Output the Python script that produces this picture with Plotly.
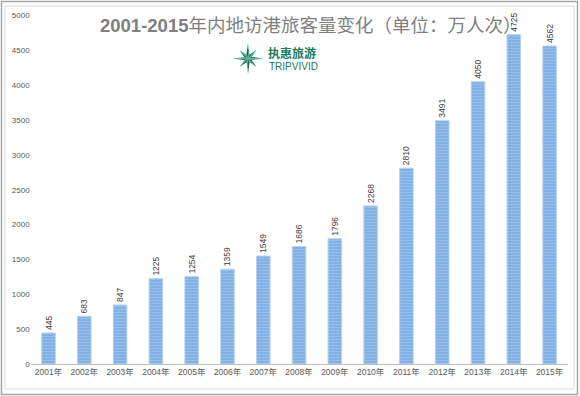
import math
import plotly.graph_objects as go

# ---------------- data ----------------
years = ["2001年", "2002年", "2003年", "2004年", "2005年", "2006年", "2007年", "2008年",
         "2009年", "2010年", "2011年", "2012年", "2013年", "2014年", "2015年"]
visitors = [445, 683, 847, 1225, 1254, 1359, 1549, 1686, 1796, 2268, 2810, 3491, 4050, 4725, 4562]
y_ticks = [0, 500, 1000, 1500, 2000, 2500, 3000, 3500, 4000, 4500, 5000]
title_bold = "2001-2015"
title_rest = "年内地访港旅客量变化（单位：万人次）"
logo_cn = "执惠旅游"
logo_en = "TRIPVIVID"

# ---------------- layout helpers ----------------
W, H = 580, 396


def px(x):
    return x / W


def py(y):
    return 1 - y / H


fig = go.Figure()
fig.add_trace(go.Bar(
    x=years, y=visitors,
    text=[str(v) for v in visitors],
    textposition="outside", textangle=-90,
    textfont=dict(family="Liberation Sans, Arial, sans-serif", size=8.5, color="#404040"),
    constraintext="none", cliponaxis=False,
    marker=dict(
        color="#9fc3ea",
        line=dict(color="#b5d2f0", width=1),
        pattern=dict(shape="-", fgcolor="#3a85d4", bgcolor="#a2c6ec", size=3, solidity=0.5),
    ),
    hoverinfo="x+y",
))

shapes = []
# outer frame and inner frame
shapes.append(dict(type="rect", xref="paper", yref="paper", x0=px(1.5), x1=px(577.5),
                   y0=py(394.5), y1=py(1.5), line=dict(color="#a6a6a6", width=1.5), layer="above"))
shapes.append(dict(type="rect", xref="paper", yref="paper", x0=px(5), x1=px(574),
                   y0=py(389), y1=py(6), line=dict(color="#d9d9d9", width=1), layer="above"))

# title drawn below bars (bar covers the end of it as in the reference)
shapes.append(dict(
    type="rect", xref="paper", yref="paper", x0=px(97), x1=px(570), y0=py(33), y1=py(15),
    line=dict(width=0), fillcolor="rgba(0,0,0,0)", layer="below",
    label=dict(text="<b>" + title_bold + "</b>" + title_rest, textposition="middle left",
               padding=0,
               font=dict(family="Liberation Sans, Noto Sans CJK SC, sans-serif", size=18.5,
                         color="#7f7f7f")),
))

# logo star
cx, cy = 248, 58.5
dark, light = "#17694f", "#46ab8c"
for i in range(8):
    th = math.radians(90 - i * 45)
    R = 15.5 if i % 2 == 0 else 12
    r = 4
    tip = (cx + R * math.cos(th), cy - R * math.sin(th))
    for sgn, col in ((1, dark), (-1, light)):
        a2 = th + sgn * math.radians(22.5)
        inn = (cx + r * math.cos(a2), cy - r * math.sin(a2))
        path = "M {:.5f} {:.5f} L {:.5f} {:.5f} L {:.5f} {:.5f} Z".format(
            px(cx), py(cy), px(tip[0]), py(tip[1]), px(inn[0]), py(inn[1]))
        shapes.append(dict(type="path", xref="paper", yref="paper", path=path,
                           fillcolor=col, line=dict(width=0), layer="above"))

annotations = [
    dict(text="<b>" + logo_cn + "</b>", xref="paper", yref="paper", x=px(266), y=py(52.5),
         xanchor="left", yanchor="middle", showarrow=False,
         font=dict(family="Noto Sans CJK SC, sans-serif", size=12, color="#1a7a5c")),
    dict(text=logo_en, xref="paper", yref="paper", x=px(267), y=py(66.5), xanchor="left",
         yanchor="middle", showarrow=False,
         font=dict(family="Liberation Sans, Arial, sans-serif", size=10, color="#1a7a5c")),
]

fig.update_layout(
    width=W, height=H,
    margin=dict(l=0, r=0, t=0, b=0),
    paper_bgcolor="white", plot_bgcolor="white",
    showlegend=False,
    bargap=0.62,
    shapes=shapes,
    annotations=annotations,
    xaxis=dict(
        domain=[px(30.6), px(567.5)],
        showline=True, linecolor="#bfbfbf", linewidth=1,
        showgrid=False, ticks="",
        tickfont=dict(family="Liberation Sans, Noto Sans CJK SC, sans-serif", size=8.5,
                      color="#595959"),
        automargin=False,
    ),
    yaxis=dict(
        domain=[py(364), py(15.5)],
        range=[0, 5000], tickvals=y_ticks, ticktext=[str(t) for t in y_ticks],
        showline=False, showgrid=False, zeroline=False, ticks="",
        tickfont=dict(family="Liberation Sans, Arial, sans-serif", size=8, color="#595959"),
        automargin=False,
    ),
)

fig.write_html("out.html",
               config={"displayModeBar": False},
               post_script="document.body.style.margin='0';document.body.style.overflow='hidden';")
